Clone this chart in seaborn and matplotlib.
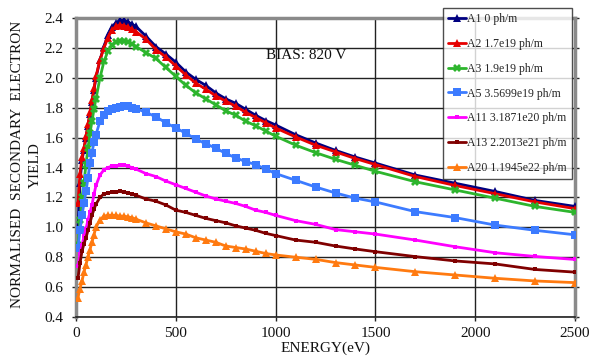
import matplotlib
matplotlib.use("Agg")
import matplotlib.pyplot as plt
import seaborn as sns
import pandas as pd
from matplotlib.lines import Line2D

energy = [10, 20, 30, 40, 50, 60, 70, 80, 90, 100, 120, 140, 160, 180, 200, 220, 240, 260, 280, 300,
          350, 400, 450, 500, 550, 600, 650, 700, 750, 800, 850, 900, 950, 1000,
          1100, 1200, 1300, 1400, 1500, 1700, 1900, 2100, 2300, 2500]

a1 = [0.99, 1.30, 1.45, 1.52, 1.60, 1.68, 1.76, 1.84, 1.92, 2.00, 2.12, 2.21, 2.29, 2.34, 2.37, 2.385, 2.385, 2.375, 2.36, 2.345,
      2.28, 2.21, 2.16, 2.105, 2.04, 1.99, 1.95, 1.90, 1.86, 1.83, 1.79, 1.75, 1.715, 1.685,
      1.62, 1.565, 1.515, 1.47, 1.43, 1.35, 1.295, 1.24, 1.18, 1.14]
a2 = [1.16, 1.36, 1.47, 1.53, 1.61, 1.69, 1.77, 1.85, 1.93, 2.01, 2.12, 2.20, 2.27, 2.32, 2.345, 2.355, 2.35, 2.34, 2.325, 2.31,
      2.26, 2.19, 2.14, 2.08, 2.02, 1.965, 1.925, 1.88, 1.845, 1.81, 1.77, 1.735, 1.70, 1.665,
      1.605, 1.55, 1.505, 1.46, 1.42, 1.34, 1.28, 1.225, 1.17, 1.125]
a3 = [0.88, 1.05, 1.20, 1.30, 1.42, 1.53, 1.63, 1.71, 1.79, 1.86, 2.00, 2.11, 2.18, 2.22, 2.24, 2.25, 2.25, 2.24, 2.23, 2.21,
      2.17, 2.13, 2.07, 2.01, 1.95, 1.90, 1.86, 1.82, 1.78, 1.75, 1.71, 1.68, 1.645, 1.61,
      1.55, 1.50, 1.455, 1.415, 1.375, 1.305, 1.25, 1.195, 1.14, 1.10]
a5 = [0.86, 0.98, 1.08, 1.16, 1.24, 1.33, 1.43, 1.50, 1.57, 1.62, 1.71, 1.75, 1.78, 1.79, 1.80, 1.805, 1.81, 1.81, 1.80, 1.795,
      1.77, 1.74, 1.70, 1.665, 1.63, 1.59, 1.56, 1.53, 1.495, 1.465, 1.44, 1.42, 1.39, 1.36,
      1.315, 1.27, 1.23, 1.195, 1.17, 1.105, 1.065, 1.015, 0.98, 0.95]
a11 = [0.74, 0.82, 0.88, 0.94, 0.99, 1.05, 1.10, 1.15, 1.22, 1.28, 1.35, 1.385, 1.40, 1.41, 1.41, 1.415, 1.415, 1.41, 1.40, 1.39,
       1.36, 1.34, 1.31, 1.285, 1.26, 1.235, 1.21, 1.19, 1.175, 1.16, 1.14, 1.115, 1.10, 1.08,
       1.045, 1.02, 0.985, 0.97, 0.955, 0.915, 0.87, 0.83, 0.805, 0.785]
a13 = [0.66, 0.76, 0.84, 0.89, 0.93, 0.98, 1.03, 1.08, 1.12, 1.155, 1.20, 1.225, 1.23, 1.235, 1.235, 1.24, 1.235, 1.23, 1.225, 1.215,
       1.19, 1.175, 1.15, 1.115, 1.10, 1.08, 1.06, 1.045, 1.03, 1.01, 0.995, 0.98, 0.96, 0.945,
       0.915, 0.90, 0.875, 0.855, 0.837, 0.804, 0.775, 0.755, 0.718, 0.70]
a20 = [0.53, 0.59, 0.64, 0.70, 0.75, 0.80, 0.85, 0.90, 0.95, 1.00, 1.05, 1.075, 1.08, 1.08, 1.08, 1.075, 1.075, 1.07, 1.065, 1.055,
       1.03, 1.01, 0.99, 0.97, 0.955, 0.93, 0.915, 0.90, 0.875, 0.865, 0.855, 0.84, 0.825, 0.815,
       0.80, 0.786, 0.764, 0.748, 0.732, 0.703, 0.681, 0.659, 0.641, 0.63]

labels = ["A1 0 ph/m", "A2 1.7e19 ph/m", "A3 1.9e19 ph/m", "A5 3.5699e19 ph/m",
          "A11 3.1871e20 ph/m", "A13 2.2013e21 ph/m", "A20 1.1945e22 ph/m"]
series = [a1, a2, a3, a5, a11, a13, a20]
colors = ["#000080", "#E60000", "#2DB52D", "#3C7BFF", "#FF00FF", "#800000", "#FF7A10"]
markers = ["^", "^", "X", "s", "s", "s", "^"]
msizes = [5.5, 6, 6, 5.5, 2.5, 2.5, 6]
x_ticks = [0, 500, 1000, 1500, 2000, 2500]
y_ticks = [0.4, 0.6, 0.8, 1.0, 1.2, 1.4, 1.6, 1.8, 2.0, 2.2, 2.4]

sns.set_theme(style="white")
plt.rcParams["font.family"] = ["Liberation Serif", "DejaVu Serif"]

fig = plt.figure(figsize=(5.91, 3.56), dpi=100)
ax = fig.add_axes([0.1286, 0.1096, 0.973 - 0.1286, 0.949 - 0.1096])

for lab, ys, c, m, ms in zip(labels, series, colors, markers, msizes):
    df = pd.DataFrame({"Energy": energy, "Yield": ys})
    sns.lineplot(data=df, x="Energy", y="Yield", ax=ax, color=c, marker=m,
                 markersize=ms, markeredgewidth=0, linewidth=2.0,
                 sort=False, estimator=None, zorder=3, legend=False)

ax.set_xlim(0, 2500)
ax.set_ylim(0.4, 2.4)
ax.set_xticks(x_ticks)
ax.set_xticklabels([str(t) for t in x_ticks], fontsize=11, color="#111111")
ax.set_yticks(y_ticks)
ax.set_yticklabels([f"{t:.1f}" for t in y_ticks], fontsize=11, color="#111111")
ax.grid(True, color="#222222", linewidth=1.0, zorder=1)
ax.set_axisbelow(True)
ax.tick_params(axis="y", which="both", left=True, right=True, length=3, width=1,
               color="#222222", pad=6, direction="out")
ax.tick_params(axis="x", which="both", bottom=True, length=3, width=1,
               color="#222222", pad=4, direction="out")
for side in ["left", "right", "top"]:
    ax.spines[side].set_color("#8a8a8a")
    ax.spines[side].set_linewidth(2.5)
ax.spines["bottom"].set_color("#222222")
ax.spines["bottom"].set_linewidth(1.2)

ax.set_xlabel("ENERGY(eV)", fontsize=11, labelpad=1, color="#111111")
ax.set_ylabel("")
fig.text(0.030, 0.537, "NORMALISED  SECONDARY  ELECTRON", rotation=90, fontsize=11,
         ha="center", va="center", color="#111111")
fig.text(0.060, 0.537, "YIELD", rotation=90, fontsize=11, ha="center", va="center",
         color="#111111")

ax.text(950, 2.15, "BIAS: 820 V", fontsize=11, ha="left", va="center", color="#111111", zorder=4)

handles = [Line2D([0], [0], color=c, marker=m, markersize=ms, markeredgewidth=0, linewidth=2.0)
           for c, m, ms in zip(colors, markers, msizes)]
leg = fig.legend(handles, labels, loc="upper left", bbox_to_anchor=(0.7496, 0.9775),
                 frameon=True, fancybox=False, edgecolor="#222222", fontsize=8.5,
                 handlelength=1.5, handletextpad=0.1, labelspacing=1.08,
                 borderpad=0.45, borderaxespad=0)
leg.get_frame().set_linewidth(1.0)
leg.set_zorder(10)

fig.savefig("out.png", dpi=100)
